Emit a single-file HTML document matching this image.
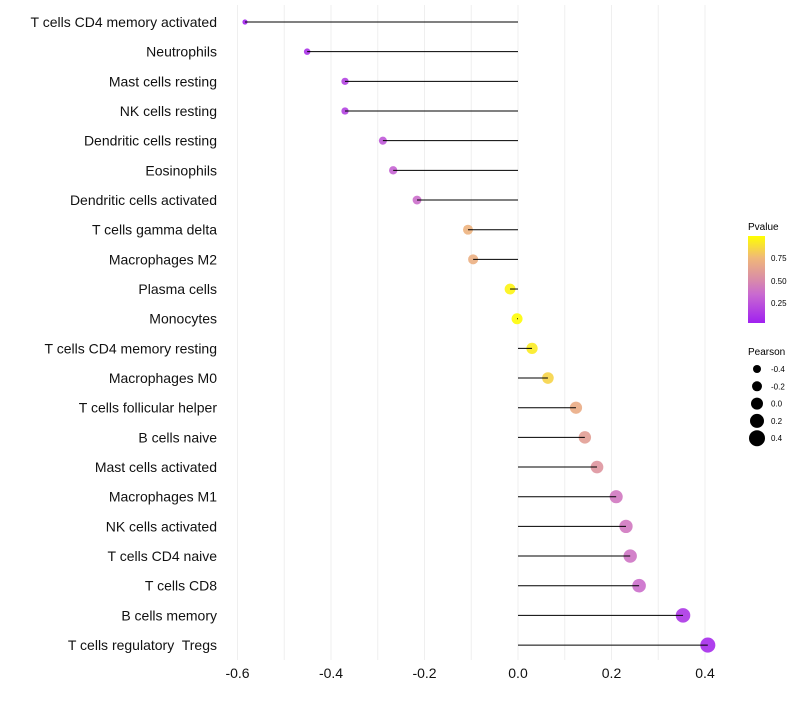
<!DOCTYPE html>
<html><head><meta charset="utf-8"><style>
body{margin:0;background:#fff;font-family:"Liberation Sans",sans-serif}
text{white-space:pre}
</style></head><body>
<svg id="chart" width="800" height="700" xmlns="http://www.w3.org/2000/svg" font-family="Liberation Sans, sans-serif">
<defs><linearGradient id="pg" x1="0" y1="1" x2="0" y2="0">
<stop offset="0" stop-color="#a020f0"/><stop offset="0.33" stop-color="#c96ad0"/><stop offset="0.5" stop-color="#d98ca8"/><stop offset="0.75" stop-color="#f0b878"/><stop offset="1" stop-color="#ffff00"/></linearGradient></defs>
<g id="grid"></g>
<g id="marks"></g>
<g id="ylabels"></g>
<g id="xlabels"></g>
<g>
<text x="748" y="230" font-size="10">Pvalue</text>
<rect x="748" y="236" width="17" height="87" fill="url(#pg)"/>
<text x="771" y="261" font-size="8">0.75</text>
<text x="771" y="284" font-size="8">0.50</text>
<text x="771" y="306" font-size="8">0.25</text>
</g>
<g id="sizeleg">
<text x="748" y="355" font-size="10">Pearson</text>
</g>
</svg>
<script>
const categories=["T cells CD4 memory activated","Neutrophils","Mast cells resting","NK cells resting","Dendritic cells resting","Eosinophils","Dendritic cells activated","T cells gamma delta","Macrophages M2","Plasma cells","Monocytes","T cells CD4 memory resting","Macrophages M0","T cells follicular helper","B cells naive","Mast cells activated","Macrophages M1","NK cells activated","T cells CD4 naive","T cells CD8","B cells memory","T cells regulatory  Tregs"];
const pearson=[-0.584,-0.451,-0.370,-0.370,-0.289,-0.267,-0.216,-0.107,-0.096,-0.017,-0.002,0.030,0.064,0.124,0.143,0.169,0.210,0.231,0.240,0.259,0.353,0.406];
const pvalues=[0.02,0.08,0.15,0.15,0.25,0.3,0.35,0.72,0.7,0.96,0.99,0.93,0.85,0.68,0.6,0.55,0.4,0.4,0.38,0.35,0.1,0.05];
const xTicks=[-0.6,-0.4,-0.2,0.0,0.2,0.4];
const legendValues=[-0.4,-0.2,0.0,0.2,0.4];
const NS="http://www.w3.org/2000/svg";
const x=v=>518+v*467.5;
const y=i=>22+i*29.67;
const r=v=>Math.max(1.5,5.5+5*v);
const stops=[[0,[160,32,240]],[0.33,[201,106,208]],[0.5,[217,140,168]],[0.75,[240,184,120]],[1,[255,255,0]]];
function col(p){for(let k=1;k<stops.length;k++){if(p<=stops[k][0]){const a=stops[k-1],b=stops[k],t=(p-a[0])/(b[0]-a[0]);return 'rgb('+a[1].map((c,j)=>Math.round(c+(b[1][j]-c)*t)).join(',')+')';}}return 'rgb(255,255,0)';}
function mk(tag,at,parent){const e=document.createElementNS(NS,tag);for(const k in at)e.setAttribute(k,at[k]);parent.appendChild(e);return e;}
const grid=document.getElementById('grid');
for(let v=-0.6;v<=0.45;v+=0.1){const g=mk('line',{x1:x(v),x2:x(v),y1:5,y2:660,stroke:'#efefef','stroke-width':1},grid);

}
const marks=document.getElementById('marks'),yl=document.getElementById('ylabels');
categories.forEach((c,i)=>{
const p=mk('circle',{cx:x(pearson[i]),cy:y(i),r:r(pearson[i]),fill:col(pvalues[i]),opacity:0.9},marks);


const l=mk('line',{x1:x(0),x2:x(pearson[i]),y1:y(i),y2:y(i),stroke:'#000','stroke-width':1},marks);


const t=mk('text',{x:217,y:y(i)+5,'text-anchor':'end','font-size':14,fill:'#111'},yl);t.textContent=c;


});
const xl=document.getElementById('xlabels');
xTicks.forEach(v=>{const t=mk('text',{x:x(v),y:678,'text-anchor':'middle','font-size':14,fill:'#111'},xl);t.textContent=v.toFixed(1);

});
const sl=document.getElementById('sizeleg');
legendValues.forEach((v,i)=>{const cy=369+i*17.3;
const c=mk('circle',{cx:757,cy:cy,r:r(v)+0.5,fill:'#000'},sl);


const t=mk('text',{x:771,y:cy+3,'font-size':8},sl);t.textContent=v.toFixed(1);

});
</script>
</body></html>
